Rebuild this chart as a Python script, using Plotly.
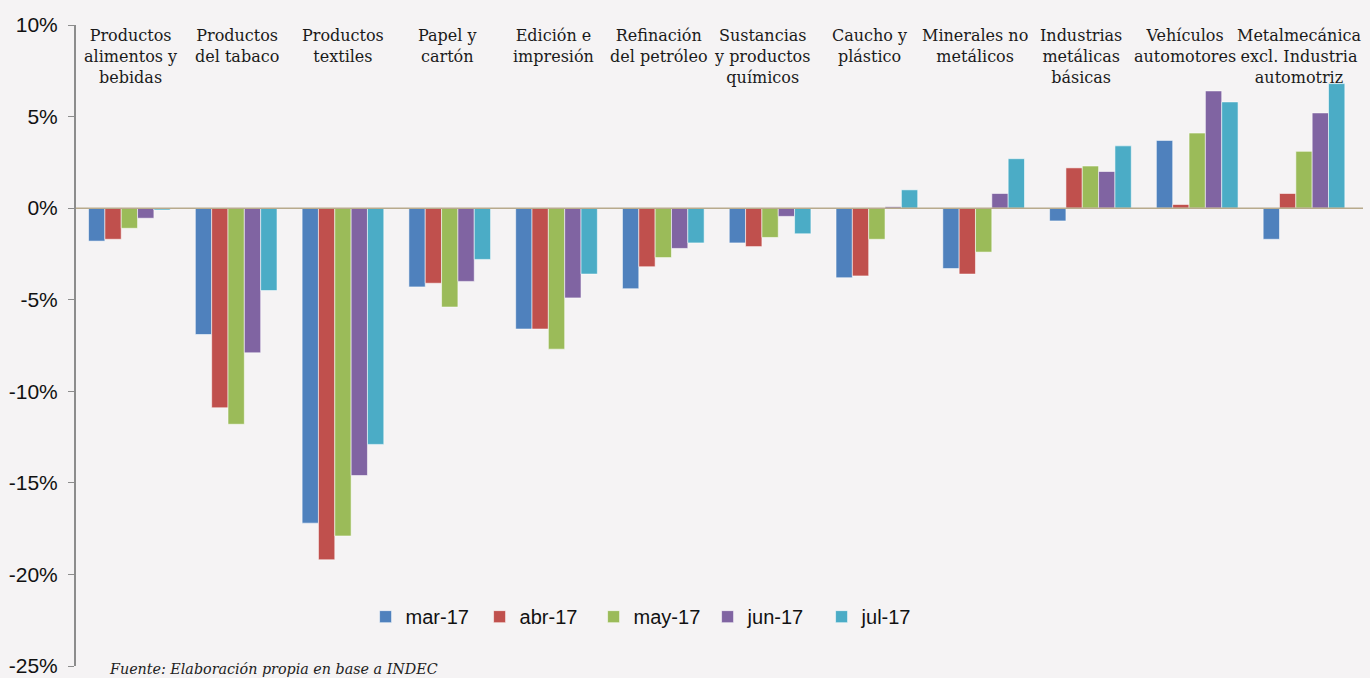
import plotly.graph_objects as go

categories = [
    "Productos<br>alimentos y<br>bebidas",
    "Productos<br>del tabaco",
    "Productos<br>textiles",
    "Papel y<br>cartón",
    "Edición e<br>impresión",
    "Refinación<br>del petróleo",
    "Sustancias<br>y productos<br>químicos",
    "Caucho y<br>plástico",
    "Minerales no<br>metálicos",
    "Industrias<br>metálicas<br>básicas",
    "Vehículos<br>automotores",
    "Metalmecánica<br>excl. Industria<br>automotriz",
]

mar_17 = [-1.8, -6.9, -17.2, -4.3, -6.6, -4.4, -1.9, -3.8, -3.3, -0.7, 3.7, -1.7]
abr_17 = [-1.7, -10.9, -19.2, -4.1, -6.6, -3.2, -2.1, -3.7, -3.6, 2.2, 0.2, 0.8]
may_17 = [-1.1, -11.8, -17.9, -5.4, -7.7, -2.7, -1.6, -1.7, -2.4, 2.3, 4.1, 3.1]
jun_17 = [-0.55, -7.9, -14.6, -4.0, -4.9, -2.2, -0.45, 0.08, 0.8, 2.0, 6.4, 5.2]
jul_17 = [-0.1, -4.5, -12.9, -2.8, -3.6, -1.9, -1.4, 1.0, 2.7, 3.4, 5.8, 6.8]

series = [
    ("mar-17", mar_17, "#4F81BD"),
    ("abr-17", abr_17, "#C0504D"),
    ("may-17", may_17, "#9BBB59"),
    ("jun-17", jun_17, "#8064A2"),
    ("jul-17", jul_17, "#4BACC6"),
]

y_ticks = [10, 5, 0, -5, -10, -15, -20, -25]
y_tick_labels = ["10%", "5%", "0%", "-5%", "-10%", "-15%", "-20%", "-25%"]

# small horizontal nudges of the category captions (as laid out in the original)
label_shift = [1, 1, 0, -2, -3, -4, -8, -7, -9, -9, -12, -5]

fig = go.Figure()
for name, vals, color in series:
    fig.add_trace(go.Bar(
        x=categories, y=vals, name=name,
        marker=dict(color=color, line=dict(color="rgba(255,255,255,0.55)", width=1)),
    ))

for cat, dx in zip(categories, label_shift):
    fig.add_annotation(
        x=cat, xref="x", y=1.0, yref="paper", yanchor="top",
        xshift=dx, yshift=1,
        text=cat, showarrow=False, align="center",
        font=dict(family="DejaVu Serif", size=16, color="#1a1a1a"),
    )

fig.add_annotation(
    x=(107 - 76) / 1287, xref="paper", xanchor="left",
    y=-0.004, yref="paper", yanchor="middle", showarrow=False,
    text="<i>Fuente: Elaboración propia en base a INDEC</i>",
    font=dict(family="DejaVu Serif", size=14.3, color="#222"),
)

fig.add_shape(type="line", xref="paper", x0=0, x1=1, yref="y", y0=0, y1=0,
              line=dict(color="#b8aa8c", width=1.5), layer="above")

fig.update_layout(
    width=1370, height=678,
    margin=dict(l=76, r=7, t=25, b=12, autoexpand=False),
    paper_bgcolor="#F5F3F4", plot_bgcolor="#F5F3F4",
    barmode="group", bargap=0.235, bargroupgap=0,
    showlegend=True,
    legend=dict(orientation="h", x=0.225, xanchor="left", y=0.077, yanchor="middle",
                font=dict(family="Liberation Sans", size=20, color="#111"),
                bgcolor="rgba(0,0,0,0)", entrywidth=69, entrywidthmode="pixels",
                traceorder="normal"),
    xaxis=dict(showticklabels=False, showgrid=False, zeroline=False, showline=False,
               ticks="", automargin=False),
    yaxis=dict(range=[-25, 10], tickvals=y_ticks, ticktext=y_tick_labels,
               showgrid=False, zeroline=False, showline=True, linecolor="#8c8c8c",
               linewidth=2, ticks="outside", ticklen=6, tickcolor="#8c8c8c",
               tickfont=dict(family="Liberation Sans", size=21, color="#111"),
               ticklabelstandoff=6, automargin=False),
)

fig.write_html("out.html")
